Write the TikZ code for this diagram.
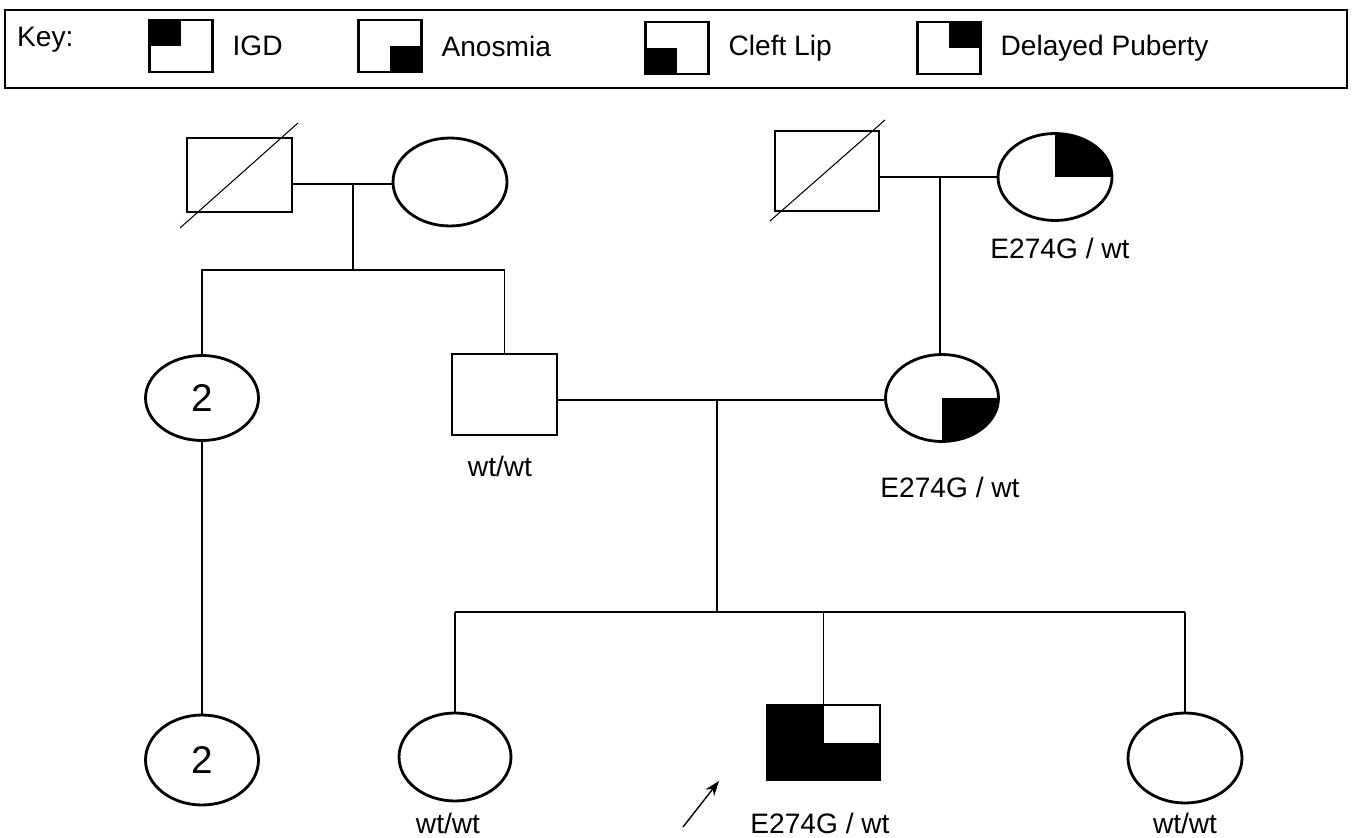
\documentclass[tikz,border=0pt]{standalone}
\usepackage{fontspec}
\setmainfont{Liberation Sans}
\usetikzlibrary{shapes.geometric,positioning,arrows.meta}

\tikzset{
  indiv/.style={draw, line width=1.6pt, inner sep=0pt},
  male/.style={indiv, rectangle, minimum width=2.1cm, minimum height=1.56cm},
  female/.style={indiv, ellipse, minimum width=2.28cm, minimum height=1.76cm},
  keybox/.style={indiv, rectangle, minimum width=1.26cm, minimum height=1.04cm},
  qtl/.style={path picture={\fill (path picture bounding box.center) rectangle (path picture bounding box.north west);}},
  qtr/.style={path picture={\fill (path picture bounding box.center) rectangle (path picture bounding box.north east);}},
  qbl/.style={path picture={\fill (path picture bounding box.center) rectangle (path picture bounding box.south west);}},
  qbr/.style={path picture={\fill (path picture bounding box.center) rectangle (path picture bounding box.south east);}},
  proband/.style={path picture={
    \fill (path picture bounding box.south west) rectangle (path picture bounding box.north);
    \fill (path picture bounding box.center) rectangle (path picture bounding box.south east);}},
  rel/.style={line width=0.6pt},
  count/.style={font=\fontsize{22}{26}\selectfont},
  every node/.style={font=\fontsize{16}{19}\selectfont}
}

\begin{document}
\begin{tikzpicture}[x=0.02cm, y=-0.02cm]
\useasboundingbox (0,0) rectangle (1355,838);

% key
\node[draw, line width=1.1pt, minimum width=26.84cm, minimum height=1.56cm] (keyframe) at (676,49) {};
\node[anchor=west] (keylbl) at (11,40) {Key:};
\node[keybox, qtl] (k1) at (181,46) {};
\node[keybox, qbr] (k2) at (390,46) {};
\node[keybox, qbl] (k3) at (677,48) {};
\node[keybox, qtr] (k4) at (949,48) {};
\node[right=0.25cm of k1] (lk1) {IGD};
\node[right=0.25cm of k2] (lk2) {Anosmia};
\node[right=0.25cm of k3] (lk3) {Cleft Lip};
\node[right=0.25cm of k4] (lk4) {Delayed Puberty};

% generation I
\node[male, minimum height=1.48cm] (gf1) at (239.5,175) {};
\node[female] (gm1) at (450,182) {};
\node[male, minimum width=2.08cm, minimum height=1.6cm] (gf2) at (827,171) {};
\node[female, qtr, minimum height=1.74cm] (gm2) at (1055,177) {};
\draw[rel] (239.5,175) ++(-59.5,53) -- ++(118,-105);
\draw[rel] (827,171) ++(-57,50) -- ++(115,-101);
\node (lgm2) at (1060,248) {E274G / wt};

% generation II
\node[female, count, minimum width=2.26cm, minimum height=1.7cm] (a2) at (202,398) {2};
\node[male, minimum height=1.62cm] (f) at (504.5,394.5) {};
\node[female, qbr, minimum width=2.26cm, minimum height=1.74cm] (mo) at (942,398) {};
\node (lf) at (500,466) {wt/wt};
\node (lmo) at (950,487) {E274G / wt};

% generation III
\node[female, count, minimum width=2.26cm, minimum height=1.8cm] (a3) at (202,760) {2};
\node[female, minimum width=2.24cm] (c1) at (455,757) {};
\node[indiv, rectangle, proband, minimum width=2.26cm, minimum height=1.5cm] (p) at (823.5,742.5) {};
\node[female, minimum height=1.8cm] (c3) at (1185,758) {};
\node (lc1) at (448,823) {wt/wt};
\node (lp) at (820,823) {E274G / wt};
\node (lc3) at (1185,823) {wt/wt};

% lines
\coordinate (m1) at (353,184);
\coordinate (s1) at (353,270);
\draw[rel] (m1 -| gf1.east) -- (m1 -| gm1.west);
\draw[rel] (m1) -- (s1);
\draw[rel] (a2.north) -- (a2.north |- s1) -- (f.north |- s1) -- (f.north);

\coordinate (m2) at (940,177);
\draw[rel] (m2 -| gf2.east) -- (m2 -| gm2.west);
\draw[rel] (m2) -- (m2 |- mo.north);

\coordinate (m3) at (717,400);
\coordinate (s3) at (717,612);
\draw[rel] (m3 -| f.east) -- (m3 -| mo.west);
\draw[rel] (m3) -- (s3);
\draw[rel] (c1.north |- s3) -- (c3.north |- s3);
\foreach \c in {c1,p,c3}
  \draw[rel] (\c.north |- s3) -- (\c.north);
\draw[rel] (a2.south) -- (a3.north);

% proband arrow
\coordinate (arrtail) at (683,827);
\coordinate (arrhead) at (719,781);
\draw[rel, line width=0.8pt, -{Stealth[length=0.3cm, width=0.22cm]}] (arrtail) -- (arrhead);
\end{tikzpicture}
\end{document}
